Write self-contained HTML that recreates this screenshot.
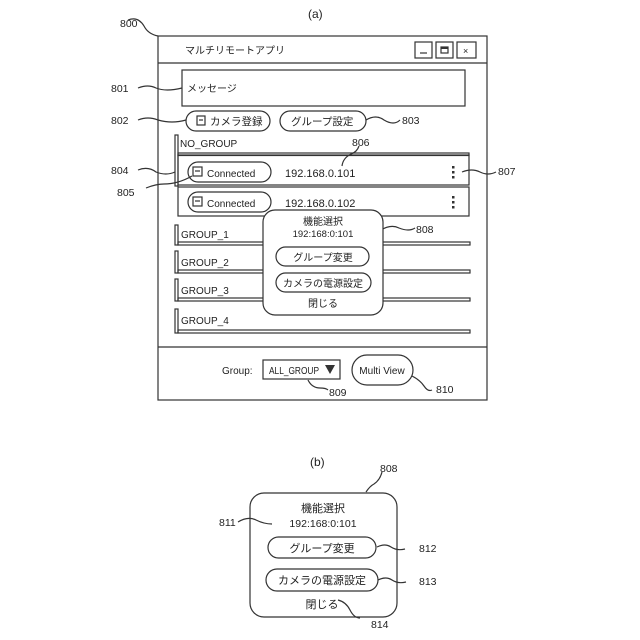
<!DOCTYPE html>
<html><head><meta charset="utf-8"><style>
html,body{margin:0;padding:0;background:#fff;}
svg{display:block;font-family:"Liberation Sans","Noto Sans CJK JP",sans-serif;}
text{fill:#222;}
</style></head><body>
<svg width="640" height="640" viewBox="0 0 640 640" xmlns="http://www.w3.org/2000/svg">
<g fill="none" stroke="#333" stroke-width="1.2">
<rect x="158" y="36" width="329" height="364"/>
<line x1="158" y1="63" x2="487" y2="63"/>
<line x1="158" y1="347" x2="487" y2="347"/>
<rect x="415" y="42" width="17" height="16"/>
<rect x="436" y="42" width="17" height="16"/>
<rect x="457" y="42" width="19" height="16"/>
<line x1="420" y1="53" x2="427" y2="53"/>
<rect x="441" y="47" width="7" height="6"/>
<line x1="441" y1="48" x2="448" y2="48" stroke-width="2"/>
<rect x="182" y="70" width="283" height="36"/>
<rect x="186" y="111" width="84" height="20" rx="10"/>
<rect x="280" y="111" width="86" height="20" rx="10"/>
<rect x="197" y="116" width="8" height="9"/>
<line x1="199" y1="120" x2="203" y2="120"/>
<rect x="175" y="135" width="3" height="51"/>
<rect x="178" y="153" width="291" height="2.5"/>
<rect x="178" y="155" width="291" height="30"/>
<rect x="178" y="187" width="291" height="29"/>
<rect x="188" y="162" width="83" height="20" rx="10"/>
<rect x="188" y="192" width="83" height="20" rx="10"/>
<rect x="193" y="167" width="9" height="9"/>
<line x1="195" y1="171" x2="200" y2="171"/>
<rect x="193" y="197" width="9" height="9"/>
<line x1="195" y1="201" x2="200" y2="201"/>
<rect x="175" y="225" width="3" height="20"/><rect x="178" y="242" width="292" height="3"/>
<rect x="175" y="251" width="3" height="22"/><rect x="178" y="270" width="292" height="3"/>
<rect x="175" y="279" width="3" height="22"/><rect x="178" y="298" width="292" height="3"/>
<rect x="175" y="309" width="3" height="24"/><rect x="178" y="330" width="292" height="3"/>
<rect x="263" y="360" width="77" height="19"/>
<rect x="352" y="355" width="61" height="30" rx="15"/>
<path d="M128 20 q10 -4 16 6 q4 8 14 10"/>
<path d="M138 88 q10 -4 18 0 q10 4 26 0"/>
<path d="M138 120 q10 -4 20 0 q14 4 28 0"/>
<path d="M366 120 q10 -6 18 0 q10 6 16 0"/>
<path d="M138 170 q10 -4 18 2 q10 4 19 0"/>
<path d="M146 188 q10 -4 18 -4 q14 0 28 -8"/>
<path d="M359 146 q-2 6 -8 8 q-8 4 -9 12"/>
<path d="M462 172 q10 -4 18 0 q8 4 16 0"/>
<path d="M381 230 q10 -6 18 -2 q10 4 16 0"/>
<path d="M308 380 q4 8 12 8 q6 0 8 2"/>
<path d="M412 376 q8 4 12 10 q4 6 8 4"/>
<rect x="250" y="493" width="147" height="124" rx="14"/>
<rect x="268" y="537" width="108" height="21" rx="10.5"/>
<rect x="266" y="569" width="112" height="22" rx="11"/>
<path d="M366 492 q4 -6 8 -8 q6 -4 8 -12"/>
<path d="M238 522 q10 -6 18 -2 q8 4 16 4"/>
<path d="M377 547 q8 -4 14 0 q6 4 14 2"/>
<path d="M378 580 q8 -4 14 0 q6 4 14 2"/>
<path d="M338 600 q8 2 12 10 q4 8 10 8"/>
</g>
<g fill="#333">
<rect x="452" y="166" width="2.5" height="2.5"/><rect x="452" y="171" width="2.5" height="2.5"/><rect x="452" y="176" width="2.5" height="2.5"/>
<rect x="452" y="196" width="2.5" height="2.5"/><rect x="452" y="201" width="2.5" height="2.5"/><rect x="452" y="206" width="2.5" height="2.5"/>
<path d="M325 365 h10 l-5 9 z"/>
</g>
<rect x="263" y="210" width="120" height="105" rx="12" fill="#fff" stroke="#333" stroke-width="1.2"/>
<rect x="276" y="247" width="93" height="19" rx="9.5" fill="none" stroke="#333" stroke-width="1.2"/>
<rect x="276" y="273" width="95" height="19" rx="9.5" fill="none" stroke="#333" stroke-width="1.2"/>
<g font-size="10.5">
<text x="120" y="27">800</text>
<text x="308" y="18" font-size="12">(a)</text>
<text x="185" y="54" font-size="10">マルチリモートアプリ</text>
<text x="463" y="54" font-size="9">×</text>
<text x="187" y="92" font-size="10">メッセージ</text>
<text x="111" y="92">801</text>
<text x="111" y="124">802</text>
<text x="210" y="125" font-size="10.5">カメラ登録</text>
<text x="291" y="125" font-size="10.5">グループ設定</text>
<text x="402" y="124">803</text>
<text x="180" y="147" font-size="10">NO_GROUP</text>
<text x="352" y="146">806</text>
<text x="111" y="174">804</text>
<text x="117" y="196">805</text>
<text x="498" y="175">807</text>
<text x="207" y="177" font-size="10">Connected</text>
<text x="207" y="207" font-size="10">Connected</text>
<text x="285" y="177" font-size="11">192.168.0.101</text>
<text x="285" y="207" font-size="11">192.168.0.102</text>
<text x="181" y="238" font-size="10">GROUP_1</text>
<text x="181" y="266" font-size="10">GROUP_2</text>
<text x="181" y="294" font-size="10">GROUP_3</text>
<text x="181" y="324" font-size="10">GROUP_4</text>
<text x="323" y="225" font-size="10" text-anchor="middle">機能選択</text>
<text x="323" y="237" font-size="9.5" text-anchor="middle">192:168:0:101</text>
<text x="323" y="261" font-size="10" text-anchor="middle">グループ変更</text>
<text x="323" y="287" font-size="10" text-anchor="middle">カメラの電源設定</text>
<text x="323" y="307" font-size="10" text-anchor="middle">閉じる</text>
<text x="416" y="233">808</text>
<text x="222" y="374" font-size="10">Group:</text>
<text x="269" y="374" font-size="10" textLength="50" lengthAdjust="spacingAndGlyphs">ALL_GROUP</text>
<text x="382" y="374" font-size="10" text-anchor="middle">Multi View</text>
<text x="329" y="396">809</text>
<text x="436" y="393">810</text>
<text x="310" y="466" font-size="12">(b)</text>
<text x="380" y="472">808</text>
<text x="323" y="512" font-size="11" text-anchor="middle">機能選択</text>
<text x="323" y="527" font-size="10.5" text-anchor="middle">192:168:0:101</text>
<text x="219" y="526">811</text>
<text x="322" y="552" font-size="11" text-anchor="middle">グループ変更</text>
<text x="322" y="584" font-size="11" text-anchor="middle">カメラの電源設定</text>
<text x="322" y="608" font-size="11" text-anchor="middle">閉じる</text>
<text x="419" y="552">812</text>
<text x="419" y="585">813</text>
<text x="371" y="628">814</text>
</g>
</svg>
</body></html>
